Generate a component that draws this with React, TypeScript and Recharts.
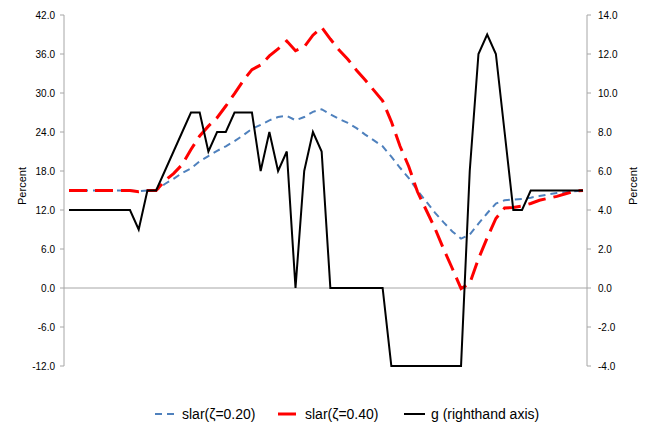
import React from 'react';
import { LineChart, Line, XAxis, YAxis, ReferenceLine } from 'recharts';

const periods = [
  '1', '2', '3', '4', '5', '6', '7', '8', '9', '10',
  '11', '12', '13', '14', '15', '16', '17', '18', '19', '20',
  '21', '22', '23', '24', '25', '26', '27', '28', '29', '30',
  '31', '32', '33', '34', '35', '36', '37', '38', '39', '40',
  '41', '42', '43', '44', '45', '46', '47', '48', '49', '50',
  '51', '52', '53', '54', '55', '56', '57', '58', '59', '60',
];

const slar20 = [
  15, 15, 15, 15, 15, 15, 15, 15, 14.9, 15,
  15, 16.0, 16.8, 17.7, 18.4, 19.5, 20.3, 21.1, 21.8, 22.6,
  23.5, 24.5, 25.1, 25.8, 26.3, 26.5, 25.8, 26.3, 27.1, 27.5,
  26.7, 26.0, 25.4, 24.6, 23.6, 22.7, 21.8, 20.2, 18.5, 16.9,
  15.0, 13.3, 11.6, 10.1, 8.7, 7.6, 8.2, 9.9, 11.5, 13.0,
  13.5, 13.6, 13.7, 13.9, 14.15, 14.4, 14.6, 14.75, 14.9, 15.0,
];

const slar40 = [
  15, 15, 15, 15, 15, 15, 15, 15, 14.8, 15,
  15, 16.5, 17.6, 19.0, 21.3, 23.4, 24.9, 26.2, 28.0, 29.9,
  31.9, 33.6, 34.3, 35.7, 36.8, 38.0, 36.5, 37.1, 38.9, 40.1,
  38.3, 36.6, 35.2, 33.5, 32.0, 30.4, 28.8, 25.6, 21.8, 18.7,
  14.8, 12.0, 9.2, 6.0, 3.0, -0.1, 0.7, 4.5, 7.7, 10.7,
  12.3, 12.4, 12.6, 13.0, 13.5, 13.8, 14.1, 14.5, 14.9, 15.0,
];

const gRight = [
  4, 4, 4, 4, 4, 4, 4, 4, 3, 5,
  5, 6, 7, 8, 9, 9, 7, 8, 8, 9,
  9, 9, 6, 8, 6, 7, 0, 6, 8, 7,
  0, 0, 0, 0, 0, 0, 0, -4, -4, -4,
  -4, -4, -4, -4, -4, -4, 6, 12, 13, 12,
  8, 4, 4, 5, 5, 5, 5, 5, 5, 5,
];

const leftTicks = [-12, -6, 0, 6, 12, 18, 24, 30, 36, 42];
const rightTicks = [-4, -2, 0, 2, 4, 6, 8, 10, 12, 14];

const seriesNames = ['slar(ζ=0.20)', 'slar(ζ=0.40)', 'g (righthand axis)'];

const data = periods.map((p, i) => ({
  period: p,
  slar20: slar20[i],
  slar40: slar40[i],
  g: gRight[i],
}));

const FONT = '"Liberation Sans", Arial, sans-serif';
const AXIS = '#a6a6a6';
const BLUE = '#4f81bd';
const RED = '#ff0000';

const fmt = (v: number) => v.toFixed(1);

const PercentLabel = (x: number, y: number) => () => (
  <text
    x={x}
    y={y}
    transform={`rotate(-90 ${x} ${y})`}
    textAnchor="middle"
    dominantBaseline="central"
    fontSize={11}
    fill="#000"
    fontFamily={FONT}
  >
    Percent
  </text>
);

const legendItems = [
  { name: seriesNames[0], color: BLUE, dash: '7 5', width: 2, left: 155 },
  { name: seriesNames[1], color: RED, dash: '18 8', width: 3, left: 278 },
  { name: seriesNames[2], color: '#000', dash: undefined, width: 2, left: 404 },
];

export default function App() {
  return (
    <div
      style={{
        position: 'absolute',
        left: 0,
        top: 0,
        width: 645,
        height: 425,
        background: '#fff',
        fontFamily: FONT,
      }}
    >
      <LineChart
        width={645}
        height={425}
        data={data}
        margin={{ top: 15, right: 0, bottom: 59, left: 0 }}
      >
        <XAxis
          dataKey="period"
          hide
          padding={{ left: 5, right: 4 }}
        />
        <YAxis
          yAxisId="left"
          orientation="left"
          width={64}
          domain={[-12, 42]}
          ticks={leftTicks}
          tickFormatter={fmt}
          interval={0}
          axisLine={{ stroke: AXIS }}
          tickLine={{ stroke: AXIS }}
          tickSize={4}
          tickMargin={5}
          tick={{ fontSize: 10, fill: '#000', fontFamily: FONT }}
          label={{ content: PercentLabel(22, 186) }}
        />
        <YAxis
          yAxisId="right"
          orientation="right"
          width={58}
          domain={[-4, 14]}
          ticks={rightTicks}
          tickFormatter={fmt}
          interval={0}
          axisLine={{ stroke: AXIS }}
          tickLine={{ stroke: AXIS }}
          tickSize={4}
          tickMargin={7}
          tick={{ fontSize: 10, fill: '#000', fontFamily: FONT }}
          label={{ content: PercentLabel(633, 186) }}
        />
        <ReferenceLine yAxisId="left" y={0} stroke={AXIS} strokeWidth={1} />
        <Line
          yAxisId="left"
          type="linear"
          dataKey="slar20"
          name={seriesNames[0]}
          stroke={BLUE}
          strokeWidth={2}
          strokeDasharray="7 5"
          dot={false}
          activeDot={false}
          isAnimationActive={false}
        />
        <Line
          yAxisId="left"
          type="linear"
          dataKey="slar40"
          name={seriesNames[1]}
          stroke={RED}
          strokeWidth={3}
          strokeDasharray="18 8"
          dot={false}
          activeDot={false}
          isAnimationActive={false}
        />
        <Line
          yAxisId="right"
          type="linear"
          dataKey="g"
          name={seriesNames[2]}
          stroke="#000"
          strokeWidth={2}
          dot={false}
          activeDot={false}
          isAnimationActive={false}
        />
      </LineChart>
      {legendItems.map((it) => (
        <div
          key={it.name}
          style={{
            position: 'absolute',
            left: it.left,
            top: 406,
            height: 16,
            display: 'flex',
            alignItems: 'center',
            whiteSpace: 'nowrap',
            fontSize: 14,
            color: '#000',
          }}
        >
          <svg width={21} height={6} style={{ marginRight: 6 }}>
            <line
              x1={0}
              y1={3}
              x2={21}
              y2={3}
              stroke={it.color}
              strokeWidth={it.width}
              strokeDasharray={it.dash}
            />
          </svg>
          <span>{it.name}</span>
        </div>
      ))}
    </div>
  );
}
